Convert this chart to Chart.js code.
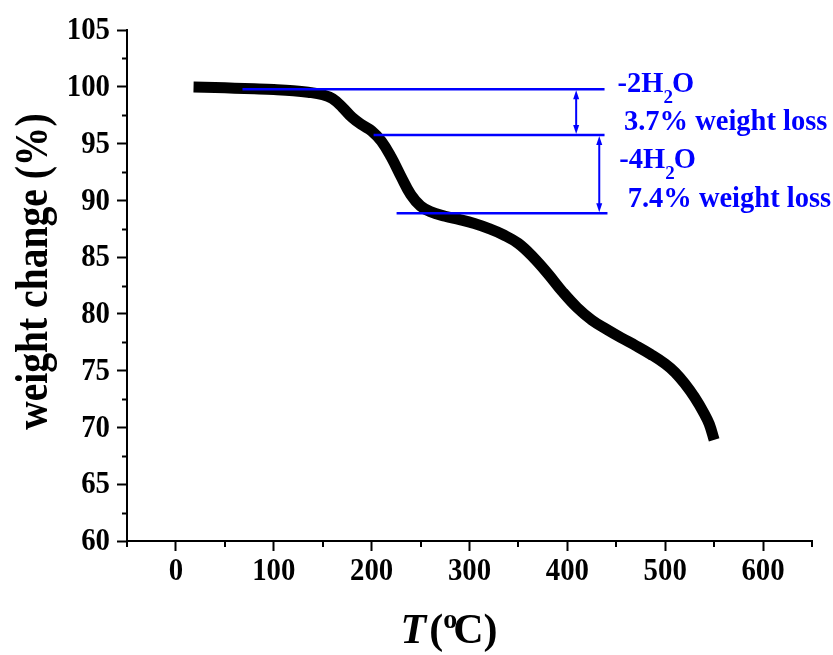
<!DOCTYPE html>
<html>
<head>
<meta charset="utf-8">
<title>TGA curve</title>
<script src="https://cdn.jsdelivr.net/npm/chart.js@4.4.1/dist/chart.umd.min.js"></script>
<style>
  body { margin: 0; background: #fff; }
  canvas { display: block; }
</style>
</head>
<body>
<canvas id="tga" width="833" height="655"></canvas>
<script>
// weight vs temperature
const temps = [18, 40, 60, 80, 100, 120, 135, 150, 160, 170, 180, 190, 200, 210, 220, 230, 240, 250, 260, 275,
  290, 305, 320, 335, 350, 365, 380, 395, 410, 425, 440, 455, 470, 485, 500, 510, 520, 530, 540, 545, 550];
const weights = [99.97, 99.93, 99.88, 99.82, 99.75, 99.65, 99.52, 99.3, 98.95, 98.2, 97.3, 96.65, 96.1, 95.2, 93.8, 92.1, 90.5, 89.5, 89.0, 88.6,
  88.3, 87.95, 87.5, 86.95, 86.2, 85.0, 83.55, 81.95, 80.55, 79.45, 78.65, 77.9, 77.2, 76.45, 75.6, 74.85, 73.85, 72.65, 71.2, 70.3, 68.9];

const xTicks = [0, 100, 200, 300, 400, 500, 600];
const yTicks = [60, 65, 70, 75, 80, 85, 90, 95, 100, 105];
const xMinor = [-50, 50, 150, 250, 350, 450, 550, 650];
const yMinor = [62.5, 67.5, 72.5, 77.5, 82.5, 87.5, 92.5, 97.5, 102.5];

// dehydration steps
const stepLevels = [99.78, 95.75, 88.86];
const stepStart = [68, 202, 225.5];
const stepEnd = [438, 438, 441];
const arrowT = [409, 432.6];
const lossText = ['3.7% weight loss', '7.4% weight loss'];
const waterCount = ['-2H', '-4H'];

const serif = '"Liberation Serif", "Times New Roman", serif';
const blue = '#0000ff';

function arrowHead(ctx, x, tipY, dir) {
  ctx.beginPath();
  ctx.moveTo(x, tipY);
  ctx.lineTo(x - 3, tipY + dir * 9);
  ctx.lineTo(x + 3, tipY + dir * 9);
  ctx.closePath();
  ctx.fill();
}

// text squeezed sideways a little, the figure font is narrower than Times
function narrowText(ctx, text, x, y, sx, align, baseline) {
  ctx.save();
  ctx.translate(x, y);
  ctx.scale(sx, 1);
  ctx.textAlign = align;
  ctx.textBaseline = baseline;
  ctx.fillText(text, 0, 0);
  ctx.restore();
}

const extras = {
  id: 'extras',
  afterDatasetsDraw(chart) {
    const ctx = chart.ctx;
    const xs = chart.scales.x, ys = chart.scales.y;
    ctx.save();
    ctx.strokeStyle = blue;
    ctx.fillStyle = blue;
    ctx.lineWidth = 2.4;
    stepLevels.forEach((lv, i) => {
      const y = ys.getPixelForValue(lv);
      ctx.beginPath();
      ctx.moveTo(xs.getPixelForValue(stepStart[i]), y);
      ctx.lineTo(xs.getPixelForValue(stepEnd[i]), y);
      ctx.stroke();
    });
    ctx.lineWidth = 2;
    arrowT.forEach((t, i) => {
      const x = xs.getPixelForValue(t);
      const y1 = ys.getPixelForValue(stepLevels[i]) + 1;
      const y2 = ys.getPixelForValue(stepLevels[i + 1]) - 1;
      ctx.beginPath();
      ctx.moveTo(x, y1 + 6);
      ctx.lineTo(x, y2 - 6);
      ctx.stroke();
      arrowHead(ctx, x, y1, 1);
      arrowHead(ctx, x, y2, -1);
    });

    // labels next to the steps
    const labelPos = [[451.3, 99.54, 457.8, 96.2], [453, 92.83, 461.6, 89.45]];
    ctx.textBaseline = 'alphabetic';
    ctx.textAlign = 'left';
    labelPos.forEach((p, i) => {
      let x = xs.getPixelForValue(p[0]);
      const y = ys.getPixelForValue(p[1]);
      ctx.font = 'bold 28.5px ' + serif;
      ctx.fillText(waterCount[i], x, y);
      x += ctx.measureText(waterCount[i]).width;
      ctx.font = 'bold 19px ' + serif;
      ctx.fillText('2', x, y + 11);
      x += ctx.measureText('2').width - 1;
      ctx.font = 'bold 28.5px ' + serif;
      ctx.fillText('O', x, y);
      ctx.fillText(lossText[i], xs.getPixelForValue(p[2]), ys.getPixelForValue(p[3]));
    });
    ctx.restore();
  },
  afterDraw(chart) {
    const ctx = chart.ctx;
    const xs = chart.scales.x, ys = chart.scales.y;
    const area = chart.chartArea;
    ctx.save();
    // minor ticks
    ctx.strokeStyle = '#000';
    ctx.lineWidth = 2;
    yMinor.forEach(v => {
      const y = Math.round(ys.getPixelForValue(v)) + 0.5;
      ctx.beginPath();
      ctx.moveTo(area.left - 5, y);
      ctx.lineTo(area.left, y);
      ctx.stroke();
    });
    xMinor.forEach(v => {
      const x = Math.round(xs.getPixelForValue(v));
      ctx.beginPath();
      ctx.moveTo(x, area.bottom);
      ctx.lineTo(x, area.bottom + 6);
      ctx.stroke();
    });

    // tick labels
    ctx.fillStyle = '#000';
    ctx.font = 'bold 32px ' + serif;
    yTicks.forEach(v => {
      narrowText(ctx, String(v), area.left - 17, ys.getPixelForValue(v) + 1, 0.9, 'right', 'middle');
    });
    xTicks.forEach(v => {
      narrowText(ctx, String(v), xs.getPixelForValue(v), area.bottom + 39, 0.9, 'center', 'alphabetic');
    });

    // y title
    ctx.save();
    ctx.translate(area.left - 80.5, ys.getPixelForValue(83.72));
    ctx.rotate(-Math.PI / 2);
    ctx.scale(0.86, 1);
    ctx.font = 'bold 46px ' + serif;
    ctx.textAlign = 'center';
    ctx.textBaseline = 'alphabetic';
    ctx.fillText('weight change (%)', 0, 0);
    ctx.restore();

    // x title: T (oC)
    let x = xs.getPixelForValue(229.5);
    const base = area.bottom + 102;
    ctx.textAlign = 'left';
    ctx.textBaseline = 'alphabetic';
    ctx.font = 'italic bold 42px ' + serif;
    ctx.fillText('T', x, base);
    x += ctx.measureText('T').width + 3;
    ctx.font = 'bold 42px ' + serif;
    ctx.fillText('(', x, base);
    x += ctx.measureText('(').width;
    ctx.font = 'bold 28px ' + serif;
    ctx.fillText('o', x, base - 15);
    x += ctx.measureText('o').width - 4;
    ctx.font = 'bold 42px ' + serif;
    ctx.fillText('C', x, base);
    x += ctx.measureText('C').width;
    ctx.fillText(')', x, base);
    ctx.restore();
  }
};

const chart = new Chart(document.getElementById('tga'), {
  type: 'line',
  data: {
    datasets: [{
      data: temps.map((t, i) => ({ x: t, y: weights[i] })),
      borderColor: '#000',
      borderWidth: 11,
      borderCapStyle: 'butt',
      borderJoinStyle: 'round',
      tension: 0.4,
      pointRadius: 0,
      fill: false
    }]
  },
  options: {
    responsive: false,
    animation: false,
    devicePixelRatio: 1,
    layout: { padding: { top: 30, right: 21, left: 0, bottom: 0 } },
    plugins: { legend: { display: false }, tooltip: { enabled: false } },
    scales: {
      x: {
        type: 'linear',
        min: -50,
        max: 650,
        afterBuildTicks: s => { s.ticks = xTicks.map(v => ({ value: v })); },
        afterFit: s => { s.height = 114; },
        grid: { drawOnChartArea: false, drawTicks: true, tickLength: 10, tickWidth: 2, tickColor: '#000' },
        border: { display: true, color: '#000', width: 2 },
        ticks: { display: false }
      },
      y: {
        min: 60,
        max: 105,
        afterBuildTicks: s => { s.ticks = yTicks.map(v => ({ value: v })); },
        afterFit: s => { s.width = 127; },
        grid: { drawOnChartArea: false, drawTicks: true, tickLength: 10, tickWidth: 2, tickColor: '#000' },
        border: { display: true, color: '#000', width: 2 },
        ticks: { display: false }
      }
    }
  },
  plugins: [extras]
});
</script>
</body>
</html>
